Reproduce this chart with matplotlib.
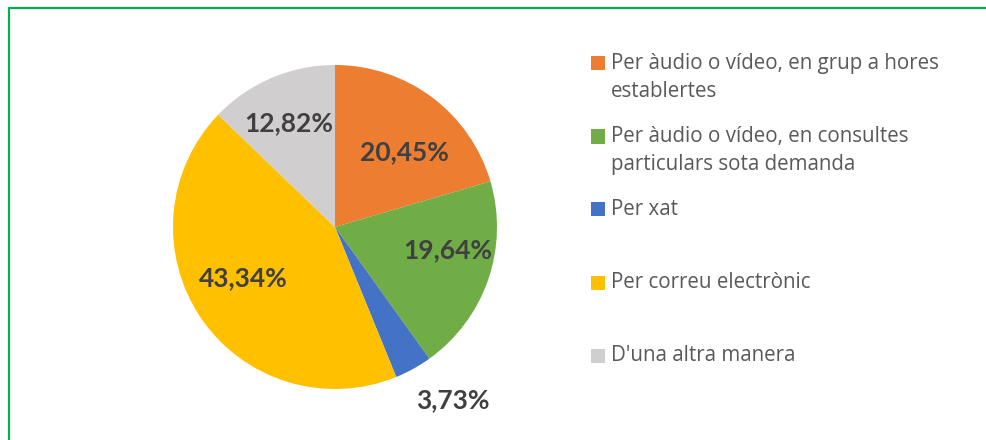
import matplotlib
matplotlib.use("Agg")
import matplotlib.pyplot as plt
from matplotlib.patches import Rectangle
from matplotlib.lines import Line2D
import numpy as np

# data
labels = ["Per àudio o vídeo, en grup a hores\nestablertes",
          "Per àudio o vídeo, en consultes\nparticulars sota demanda",
          "Per xat",
          "Per correu electrònic",
          "D'una altra manera"]
values = [20.45, 19.64, 3.73, 43.34, 12.82]
pct_text = ["20,45%", "19,64%", "3,73%", "43,34%", "12,82%"]
colors = ["#ED7D31", "#70AD47", "#4472C4", "#FFC000", "#D0CECE"]

# label placement (radius fraction, angle shift in degrees)
lab_r = [0.63, 0.71, 1.29, 0.65, 0.70]
lab_dt = [-5.8, 7.5, 5.3, -5.2, 1.0]

W, H = 986, 440
fig = plt.figure(figsize=(W / 100, H / 100), dpi=100)
fig.patch.set_facecolor("white")

# pie centred at (335, 227) px, radius 162 px
cx, cy, R = 335, 227, 162
ax = fig.add_axes([(cx - R) / W, (H - cy - R) / H, 2 * R / W, 2 * R / H])
wedges, _ = ax.pie(values, colors=colors, startangle=90, counterclock=False,
                   radius=1, wedgeprops=dict(linewidth=0))
ax.set_xlim(-1, 1)
ax.set_ylim(-1, 1)
ax.set_aspect("equal")
ax.axis("off")

for w, txt, r, dt in zip(wedges, pct_text, lab_r, lab_dt):
    ang = np.deg2rad((w.theta1 + w.theta2) / 2 + dt)
    ax.text(r * np.cos(ang), r * np.sin(ang), txt, ha="center", va="center",
            fontsize=19, fontweight="bold", color="#404040", family="Lato",
            clip_on=False)

# legend drawn by hand so the marker sits on the first line
for i, (lab, col) in enumerate(zip(labels, colors)):
    yc = 63.5 + i * 73
    fig.add_artist(Rectangle((591 / W, 1 - (yc + 7) / H), 14 / W, 14 / H,
                             transform=fig.transFigure, facecolor=col,
                             edgecolor="none"))
    for j, line in enumerate(lab.split("\n")):
        fig.text(611 / W, 1 - (yc + j * 28) / H, line, ha="left", va="center",
                 fontsize=14.8, color="#595959", family="Open Sans")

# green frame (top and left edges visible)
fig.add_artist(Line2D([8.5 / W, 8.5 / W, 1.0], [0.0, 1 - 8.5 / H, 1 - 8.5 / H],
                      transform=fig.transFigure, color="#00B050", linewidth=1.6))

fig.savefig("out.png", dpi=100, facecolor="white")
